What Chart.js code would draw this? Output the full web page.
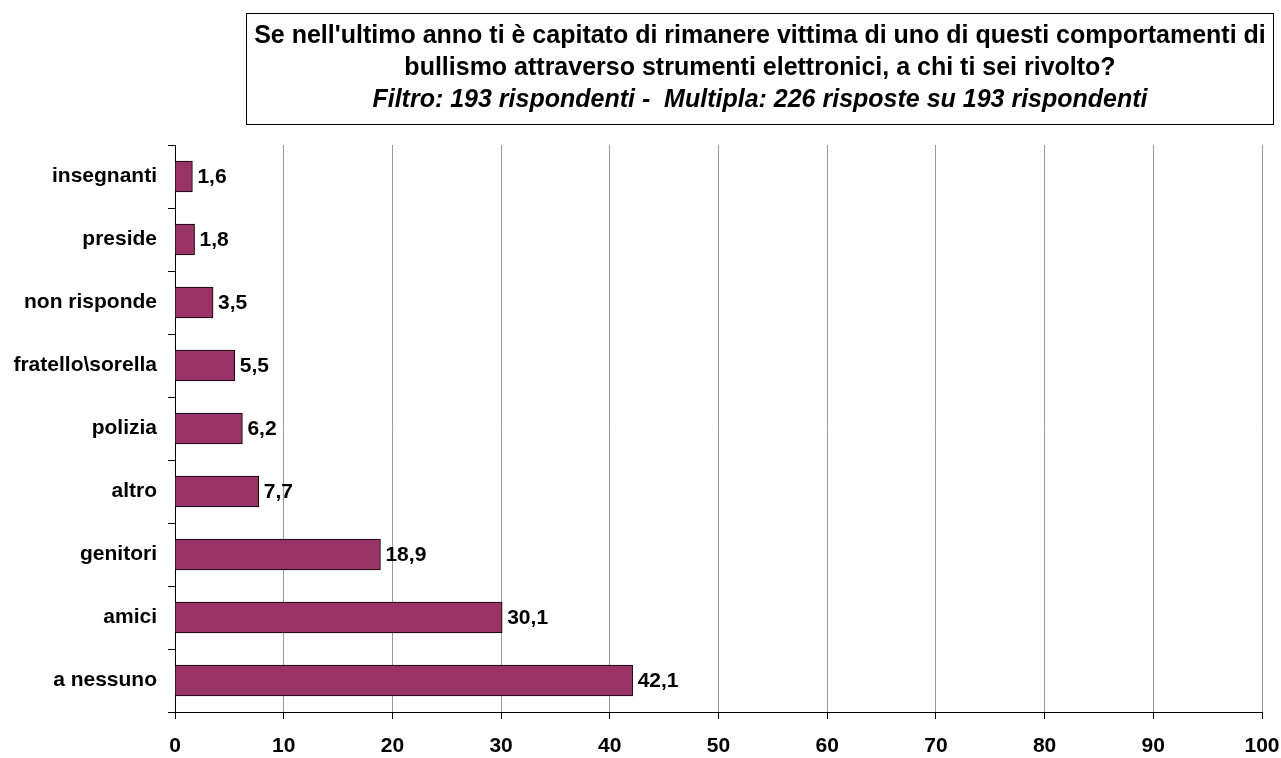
<!DOCTYPE html>
<html>
<head>
<meta charset="utf-8">
<script src="https://cdn.jsdelivr.net/npm/chart.js@4"></script>
<style>
  html, body { margin: 0; padding: 0; background: #fff; }
  #wrap { position: relative; width: 1281px; height: 758px; overflow: hidden; }
  #title {
    position: absolute; left: 246px; top: 13px; width: 1026px; height: 106px;
    border: 1px solid #000; padding-top: 4px;
    font-family: "Liberation Sans", Arial, sans-serif; font-weight: bold;
    font-size: 25px; line-height: 32px; text-align: center; color: #000;
    white-space: nowrap;
  }
  #title i { font-style: italic; }
</style>
</head>
<body>
<div id="wrap">
  <canvas id="chart" width="1281" height="758"></canvas>
  <div id="title">Se nell'ultimo anno ti è capitato di rimanere vittima di uno di questi comportamenti di<br>bullismo attraverso strumenti elettronici, a chi ti sei rivolto?<br><i>Filtro: 193 rispondenti -&nbsp; Multipla: 226 risposte su 193 rispondenti</i></div>
</div>
<script>
  // ===== Data =====
  const categories = ['insegnanti', 'preside', 'non risponde', 'fratello\\sorella', 'polizia', 'altro', 'genitori', 'amici', 'a nessuno'];
  const values = [1.6, 1.8, 3.5, 5.5, 6.2, 7.7, 18.9, 30.1, 42.1];
  const xTicks = [0, 10, 20, 30, 40, 50, 60, 70, 80, 90, 100];

  const FONT = '"Liberation Sans", Arial, sans-serif';
  const BAR_COLOR = '#993366';

  // value labels at the end of each bar
  const valueLabels = {
    id: 'valueLabels',
    afterDatasetsDraw(chart) {
      const ctx = chart.ctx;
      const meta = chart.getDatasetMeta(0);
      ctx.save();
      ctx.font = 'bold 21px ' + FONT;
      ctx.fillStyle = '#000';
      ctx.textAlign = 'left';
      ctx.textBaseline = 'middle';
      meta.data.forEach((bar, i) => {
        ctx.fillText(values[i].toFixed(1).replace('.', ','), bar.x + 5, bar.y + 1);
      });
      ctx.restore();
    }
  };

  const chart = new Chart(document.getElementById('chart'), {
    type: 'bar',
    data: {
      labels: categories,
      datasets: [{
        data: values,
        backgroundColor: BAR_COLOR,
        borderColor: '#000',
        borderWidth: 1,
        barThickness: 31
      }]
    },
    options: {
      indexAxis: 'y',
      responsive: false,
      animation: false,
      layout: { padding: { top: 145, right: 19, bottom: 0, left: 0 } },
      plugins: { legend: { display: false }, tooltip: { enabled: false } },
      scales: {
        x: {
          min: 0, max: 100,
          afterBuildTicks: (axis) => { axis.ticks = xTicks.map(v => ({ value: v })); },
          afterFit: (axis) => { axis.height = 46; axis.paddingLeft = 0; axis.paddingRight = 0; },
          grid: { color: '#999', tickColor: '#000', tickLength: 7, lineWidth: 1 },
          border: { color: '#000' },
          ticks: { color: '#000', font: { family: FONT, size: 21, weight: 'bold' }, padding: 15, maxRotation: 0 }
        },
        y: {
          afterFit: (axis) => { axis.width = 175; },
          grid: { drawOnChartArea: false, color: '#000', tickLength: 7, offset: true },
          border: { color: '#000' },
          ticks: { color: '#000', font: { family: FONT, size: 21, weight: 'bold' }, padding: 11 }
        }
      }
    },
    plugins: [valueLabels]
  });
</script>
</body>
</html>
